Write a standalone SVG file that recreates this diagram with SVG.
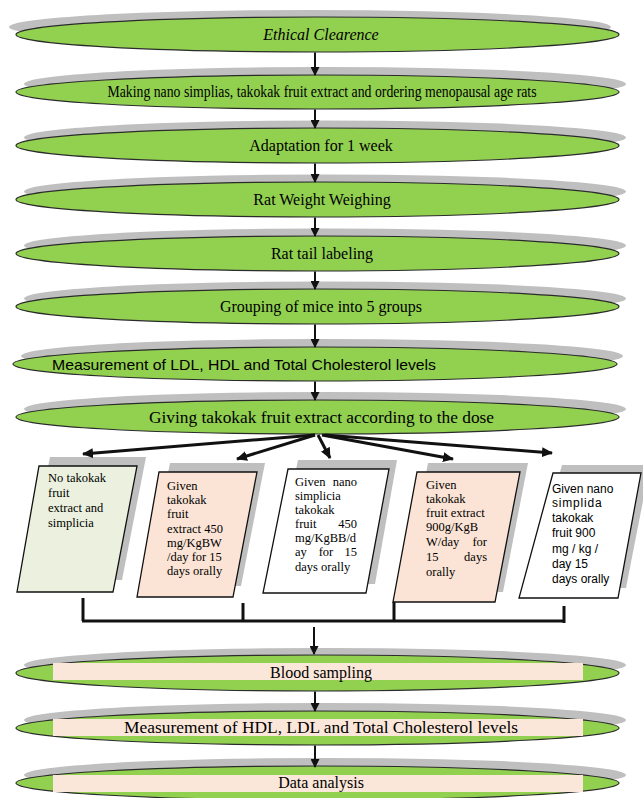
<svg xmlns="http://www.w3.org/2000/svg" width="643" height="798" viewBox="0 0 643 798">
<style>
.sh{fill:#bfbfbf;stroke:none}
.el{fill:#92d050;stroke:#2b2b2b;stroke-width:1.2}
.in{fill:#fbe7da;stroke:none}
.t{font-family:"Liberation Serif","Times New Roman",serif;font-size:16px;fill:#000;text-anchor:middle}
.ts{font-family:"Liberation Sans",Arial,sans-serif;fill:#000}
.bt{font-family:"Liberation Serif","Times New Roman",serif;font-size:12.5px;fill:#000}
.bsh{fill:#bfbfbf;stroke:none}
.bx{stroke:#111;stroke-width:1.3}
.ar{stroke:#111;stroke-width:2;fill:none;marker-end:url(#ah)}
.fa{stroke:#111;stroke-width:3;fill:none;marker-end:url(#ah2)}
.br{stroke:#111;stroke-width:3;fill:none}
</style>
<defs>
<marker id="ah" markerWidth="9" markerHeight="9" refX="8" refY="4.5" orient="auto" markerUnits="userSpaceOnUse">
<path d="M0,0 L9,4.5 L0,9 Z" fill="#111"/>
</marker>
<marker id="ah2" markerWidth="11" markerHeight="10" refX="10" refY="5" orient="auto" markerUnits="userSpaceOnUse">
<path d="M0,0 L11,5 L0,10 Z" fill="#111"/>
</marker>
</defs>
<rect width="643" height="798" fill="#ffffff"/>

<g id="n1">
<ellipse class="sh" cx="310" cy="27" rx="301" ry="17"/>
<ellipse class="el" cx="317.5" cy="34.5" rx="301.5" ry="17.5"/>
<text class="t" x="321" y="40" font-style="italic" font-size="17">Ethical Clearence</text>
</g>
<g id="n2">
<ellipse class="sh" cx="325" cy="84" rx="301" ry="17"/>
<ellipse class="el" cx="317.5" cy="92" rx="301.5" ry="17"/>
<text class="t" x="322" y="96.5" font-size="12.5" textLength="429" lengthAdjust="spacingAndGlyphs">Making nano simplias, takokak fruit extract and ordering menopausal age rats</text>
</g>
<g id="n3">
<ellipse class="sh" cx="325" cy="137.5" rx="301" ry="17"/>
<ellipse class="el" cx="317.5" cy="145.5" rx="301.5" ry="17.5"/>
<text class="t" x="321" y="151">Adaptation for 1 week</text>
</g>
<g id="n4">
<ellipse class="sh" cx="325" cy="191.5" rx="301" ry="17"/>
<ellipse class="el" cx="317.5" cy="199.5" rx="301.5" ry="17.5"/>
<text class="t" x="322" y="205">Rat Weight Weighing</text>
</g>
<g id="n5">
<ellipse class="sh" cx="325" cy="245.5" rx="301" ry="17"/>
<ellipse class="el" cx="317.5" cy="253.5" rx="301.5" ry="17.5"/>
<text class="t" x="322" y="259">Rat tail labeling</text>
</g>
<g id="n6">
<ellipse class="sh" cx="325" cy="298.5" rx="301" ry="17"/>
<ellipse class="el" cx="317.5" cy="306.5" rx="301.5" ry="17.5"/>
<text class="t" x="321" y="312">Grouping  of mice into 5 groups</text>
</g>
<g id="n7">
<ellipse class="sh" cx="322" cy="356" rx="301" ry="17"/>
<ellipse class="el" cx="315" cy="364" rx="302" ry="17"/>
<text class="ts" x="52" y="369.5" font-size="15" textLength="384" lengthAdjust="spacingAndGlyphs">Measurement of LDL, HDL and Total Cholesterol levels</text>
</g>
<g id="n8">
<ellipse class="sh" cx="325" cy="409" rx="301" ry="17"/>
<ellipse class="el" cx="317.5" cy="417" rx="301.5" ry="17"/>
<text class="t" x="321.5" y="422.5" textLength="345" lengthAdjust="spacingAndGlyphs">Giving  takokak fruit extract according to the dose</text>
</g>

<g id="b1">
<polygon class="bsh" points="50,457 146,457 122,580 26,580"/>
<polygon class="bx" fill="#ebf1de" points="39,466 137,466 113,592 17,592"/>
<text class="bt"><tspan x="48" y="482">No takokak</tspan><tspan x="48" y="497">fruit</tspan><tspan x="48" y="512">extract and</tspan><tspan x="48" y="527">simplicia</tspan></text>
</g>
<g id="b2">
<polygon class="bsh" points="170,463 265,463 241,586 146,586"/>
<polygon class="bx" fill="#fbe4d5" points="159,472 257,472 233,597 137,597"/>
<text class="bt"><tspan x="167" y="490">Given</tspan><tspan x="167" y="504">takokak</tspan><tspan x="167" y="518">fruit</tspan><tspan x="167" y="533">extract 450</tspan><tspan x="167" y="547">mg/KgBW</tspan><tspan x="167" y="561">/day for 15</tspan><tspan x="167" y="575">days orally</tspan></text>
</g>
<g id="b3">
<polygon class="bsh" points="298,460 397,460 375,584 272,584"/>
<polygon class="bx" fill="#ffffff" points="288,469 389,469 366,593 263,593"/>
<text class="bt"><tspan x="295" y="486">Given</tspan><tspan x="357" y="486" text-anchor="end">nano</tspan><tspan x="295" y="500">simplicia</tspan><tspan x="295" y="514">takokak</tspan><tspan x="295" y="528">fruit</tspan><tspan x="357" y="528" text-anchor="end">450</tspan><tspan x="295" y="542">mg/KgBB/d</tspan><tspan x="295" y="556">ay</tspan><tspan x="326" y="556" text-anchor="middle">for</tspan><tspan x="357" y="556" text-anchor="end">15</tspan><tspan x="295" y="571">days orally</tspan></text>
</g>
<g id="b4">
<polygon class="bsh" points="428,463 528,463 503,592 404,592"/>
<polygon class="bx" fill="#fbe4d5" points="417,472 520,472 495,602 393,602"/>
<text class="bt"><tspan x="426" y="489">Given</tspan><tspan x="426" y="503">takokak</tspan><tspan x="426" y="517">fruit extract</tspan><tspan x="426" y="531">900g/KgB</tspan><tspan x="426" y="546">W/day</tspan><tspan x="487" y="546" text-anchor="end">for</tspan><tspan x="426" y="561">15</tspan><tspan x="487" y="561" text-anchor="end">days</tspan><tspan x="426" y="576">orally</tspan></text>
</g>
<g id="b5">
<polygon class="bsh" points="562,465 650,465 626,588 528,588"/>
<polygon class="bx" fill="#ffffff" points="553,473 641,473 618,598 519,598"/>
<text class="ts" font-size="12"><tspan x="552" y="493">Given nano</tspan><tspan x="552" y="507" letter-spacing="0.8">simplida</tspan><tspan x="552" y="522">takokak</tspan><tspan x="552" y="537">fruit 900</tspan><tspan x="552" y="553">mg / kg /</tspan><tspan x="552" y="568">day 15</tspan><tspan x="552" y="583">days orally</tspan></text>
</g>

<g id="n9">
<ellipse class="sh" cx="325" cy="665" rx="301" ry="17"/>
<ellipse class="el" cx="317.5" cy="673" rx="301.5" ry="18"/>
<rect class="in" x="53" y="663" width="530" height="17"/>
<text class="t" x="321" y="678">Blood  sampling</text>
</g>
<g id="n10">
<ellipse class="sh" cx="325" cy="720" rx="301" ry="17"/>
<ellipse class="el" cx="317.5" cy="728" rx="301.5" ry="17"/>
<rect class="in" x="53" y="719" width="530" height="17"/>
<text class="t" x="321" y="733" textLength="394" lengthAdjust="spacingAndGlyphs">Measurement of HDL, LDL and Total Cholesterol levels</text>
</g>
<g id="n11">
<ellipse class="sh" cx="325" cy="775" rx="301" ry="17"/>
<ellipse class="el" cx="317.5" cy="783" rx="301.5" ry="17"/>
<rect class="in" x="53" y="775" width="530" height="17"/>
<text class="t" x="321" y="788">Data analysis</text>
</g>

<g id="connectors">
<line class="ar" x1="315" y1="52.5" x2="315" y2="75"/>
<line class="ar" x1="315" y1="109.5" x2="315" y2="128"/>
<line class="ar" x1="315" y1="163.5" x2="315" y2="182"/>
<line class="ar" x1="315" y1="217.5" x2="315" y2="236"/>
<line class="ar" x1="315" y1="271.5" x2="315" y2="289"/>
<line class="ar" x1="315" y1="324.5" x2="315" y2="347"/>
<line class="ar" x1="315" y1="381.5" x2="315" y2="400"/>
<line class="fa" x1="315" y1="435" x2="83" y2="454"/>
<line class="fa" x1="315" y1="435" x2="237" y2="459"/>
<line class="fa" x1="318" y1="435" x2="330" y2="458"/>
<line class="fa" x1="322" y1="435" x2="453" y2="459"/>
<line class="fa" x1="325" y1="435" x2="552" y2="453"/>
<path class="br" d="M83,598 V621 M243,603 V621 M394,602 V621 M564,606 V623 M82,621 H565"/>
<line class="ar" x1="314" y1="627" x2="314" y2="654"/>
<line class="ar" x1="315" y1="691.5" x2="315" y2="711"/>
<line class="ar" x1="315" y1="745.5" x2="315" y2="767"/>
</g>
</svg>
